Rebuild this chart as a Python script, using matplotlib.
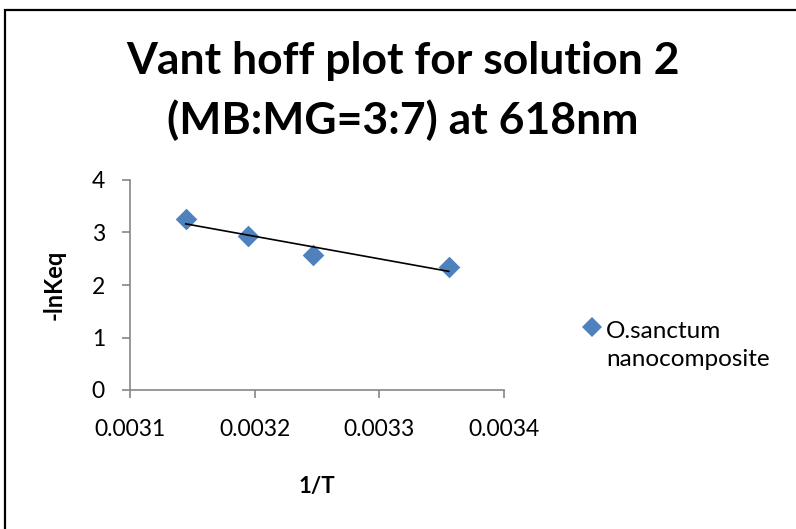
import numpy as np
import matplotlib
matplotlib.use("Agg")
import matplotlib.pyplot as plt
from matplotlib.patches import Rectangle
from matplotlib.lines import Line2D

plt.rcParams['font.family'] = ['Lato', 'DejaVu Sans']

# Inverse temperature (1/K) and -ln(Keq)
inv_T = [0.0031447, 0.0031949, 0.0032468, 0.0033557]
neg_ln_keq = [3.26, 2.93, 2.57, 2.34]
series_name = "O.sanctum\nnanocomposite"
x_ticks = [0.0031, 0.0032, 0.0033, 0.0034]
x_tick_labels = ["0.0031", "0.0032", "0.0033", "0.0034"]
y_ticks = [0, 1, 2, 3, 4]

BLUE = "#4F81BD"
GREY = "#868686"

W, H = 796, 529
fig = plt.figure(figsize=(W / 100, H / 100), dpi=100)

# chart area frame
fig.patches.append(Rectangle((5 / W, -0.1), 1.2, 1 - 10 / H + 0.1,
                             transform=fig.transFigure, fill=False,
                             edgecolor="black", linewidth=1.6))

ax = fig.add_axes([130 / W, 1 - 390 / H, (504 - 130) / W, (390 - 180) / H])
ax.scatter(inv_T, neg_ln_keq, marker="D", s=11 ** 2, color=BLUE,
           zorder=3, linewidths=0)

# linear trendline
slope, intercept = np.polyfit(inv_T, neg_ln_keq, 1)
xs = np.array([min(inv_T), max(inv_T)])
ax.plot(xs, slope * xs + intercept, color="black", linewidth=1.2, zorder=4)

ax.set_xlim(0.0031, 0.0034)
ax.set_ylim(0, 4)
ax.set_xticks(x_ticks)
ax.set_xticklabels(x_tick_labels)
ax.set_yticks(y_ticks)
for s in ["top", "right"]:
    ax.spines[s].set_visible(False)
for s in ["left", "bottom"]:
    ax.spines[s].set_color(GREY)
    ax.spines[s].set_linewidth(1.2)
ax.tick_params(axis="both", direction="out", length=6, width=1.2,
               color=GREY, labelsize=16.5, labelcolor="black")
ax.tick_params(axis="x", pad=15)
ax.tick_params(axis="y", pad=12)

ax.set_xlabel("1/T", fontsize=16, fontweight="bold", labelpad=26)
ax.set_ylabel("-lnKeq", fontsize=17, fontweight="bold", labelpad=19)

fig.text(403 / W, 1 - 74 / H, "Vant hoff plot for solution 2",
         ha="center", va="baseline", fontsize=32, fontweight="bold")
fig.text(403 / W, 1 - 134 / H, "(MB:MG=3:7) at 618nm",
         ha="center", va="baseline", fontsize=32, fontweight="bold")

# legend entry: marker beside the first line of a two-line label
fig.add_artist(Line2D([592 / W], [1 - 327 / H], transform=fig.transFigure,
                      marker="D", markersize=10, color=BLUE,
                      markeredgewidth=0, linestyle="none"))
fig.text(606 / W, 1 - 327 / H + 0.012, series_name, ha="left", va="top",
         fontsize=17.5, linespacing=1.45,
         transform=fig.transFigure)

fig.savefig("out.png", dpi=100)
